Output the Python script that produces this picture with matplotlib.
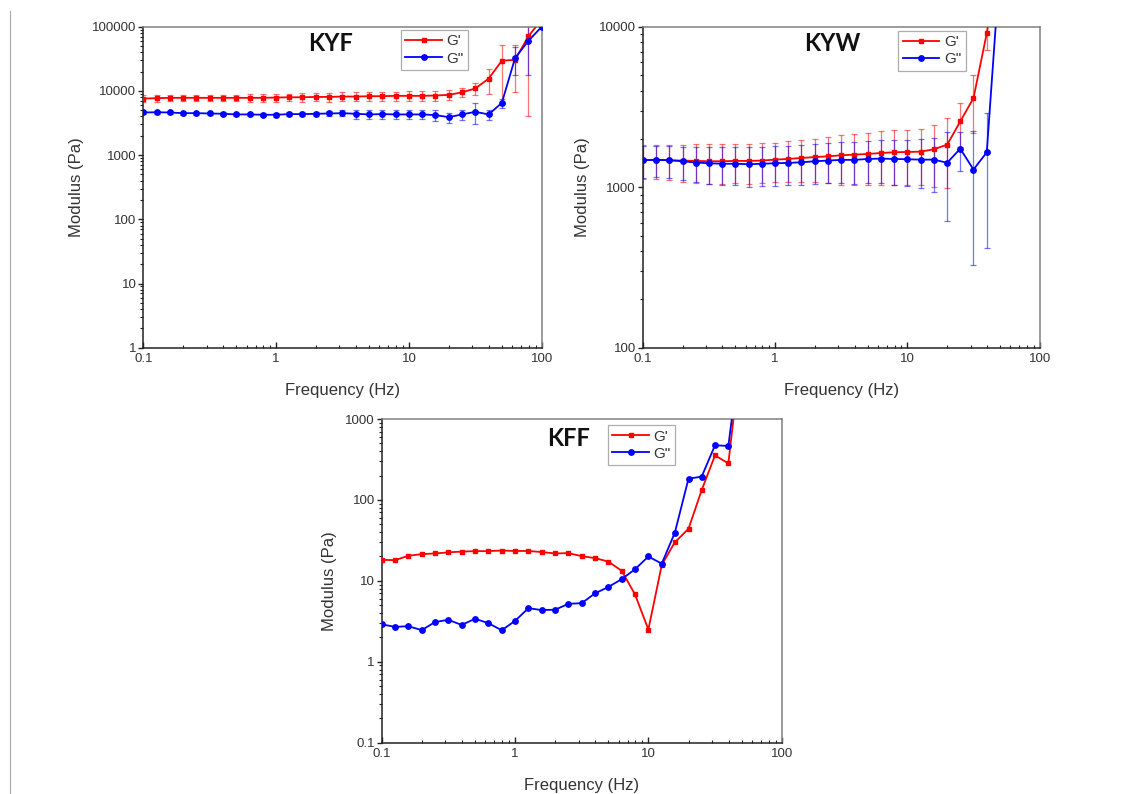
import matplotlib
matplotlib.use("Agg")
import matplotlib.pyplot as plt
from matplotlib.ticker import FixedLocator, FuncFormatter, LogLocator, NullFormatter
from matplotlib.lines import Line2D

plt.rcParams['font.family'] = ['Liberation Sans', 'DejaVu Sans']

# ---------------- data ----------------
freq = [0.1, 0.126, 0.158, 0.2, 0.251, 0.316, 0.398, 0.501, 0.631, 0.794,
        1.0, 1.26, 1.58, 2.0, 2.51, 3.16, 3.98, 5.01, 6.31, 7.94,
        10.0, 12.6, 15.8, 20.0, 25.1, 31.6, 39.8, 50.1, 63.1, 79.4, 100.0]

# KYF
kyf_gp = [7600, 7700, 7800, 7800, 7800, 7800, 7800, 7800, 7800, 7800,
          7880, 7960, 7960, 8060, 8060, 8170, 8170, 8270, 8270, 8370,
          8370, 8370, 8470, 8670, 9500, 10900, 15500, 29500, 30500, 71000, 130000]
kyf_gp_err = [900, 900, 900, 900, 900, 900, 950, 950, 1000, 1000,
              1100, 1100, 1150, 1200, 1250, 1300, 1300, 1350, 1400, 1400,
              1450, 1450, 1500, 1500, 1400, 2300, 6400, 23000, 21000, 67000, 0]
kyf_gpp = [4610, 4650, 4610, 4500, 4500, 4450, 4400, 4300, 4300, 4250,
           4250, 4350, 4350, 4400, 4450, 4500, 4400, 4300, 4350, 4300,
           4300, 4300, 4200, 3900, 4300, 4720, 4300, 6500, 32800, 60000, 100000]
kyf_gpp_err = [250, 250, 250, 250, 250, 250, 250, 250, 250, 250,
               300, 300, 300, 300, 350, 500, 700, 700, 700, 700,
               700, 700, 800, 700, 800, 1650, 800, 1000, 15000, 42000, 0]

# KYW
kyw_gp = [1472, 1480, 1472, 1465, 1458, 1451, 1451, 1458, 1458, 1465,
          1485, 1500, 1521, 1540, 1558, 1580, 1596, 1610, 1634, 1650,
          1658, 1665, 1722, 1841, 2570, 3590, 9090, 30000]
kyw_gp_err = [350, 360, 370, 380, 390, 400, 400, 400, 405, 410,
              410, 430, 450, 470, 500, 545, 560, 580, 600, 620,
              630, 640, 720, 850, 800, 1400, 1900, 0]
kyw_gpp = [1472, 1480, 1472, 1451, 1424, 1410, 1400, 1400, 1390, 1400,
           1410, 1417, 1430, 1451, 1465, 1480, 1480, 1500, 1507, 1500,
           1493, 1485, 1485, 1420, 1738, 1288, 1650, 24000]
kyw_gpp_err = [330, 330, 330, 340, 350, 360, 370, 370, 380, 380,
               390, 390, 400, 400, 410, 420, 430, 440, 450, 470,
               480, 500, 550, 800, 470, 960, 1230, 0]

# KFF
kff_gp = [18.2, 18.0, 20.4, 21.4, 21.8, 22.5, 23.0, 23.3, 23.3, 23.7,
          23.4, 23.4, 22.7, 21.8, 22.0, 20.2, 19.1, 17.3, 13.3, 6.8,
          2.5, 15.7, 30.0, 44.0, 132.0, 355.0, 283.0, 7600.0]
kff_gpp = [2.9, 2.7, 2.75, 2.46, 3.1, 3.3, 2.85, 3.4, 3.0, 2.45,
           3.2, 4.6, 4.35, 4.4, 5.2, 5.3, 7.0, 8.4, 10.5, 13.9,
           20.0, 16.3, 39.5, 183.0, 194.0, 473.0, 465.0, 8900.0]

x_ticks = [0.1, 1, 10, 100]
RED = '#ff0000'
BLUE = '#0000ff'

fig = plt.figure(figsize=(11.22, 7.94), dpi=100)

# thin gray vertical line at left edge
fig.add_artist(Line2D([9.7 / 1122, 9.7 / 1122], [0, 1 - 11 / 794],
                      transform=fig.transFigure, color='#aaaaaa', lw=0.8))


def style_axes(ax, ylim, yticks):
    ax.set_xscale('log')
    ax.set_yscale('log')
    ax.set_xlim(0.1, 100)
    ax.set_ylim(*ylim)
    ax.xaxis.set_major_locator(FixedLocator(x_ticks))
    ax.yaxis.set_major_locator(FixedLocator(yticks))
    fmt = FuncFormatter(lambda v, p: '{:g}'.format(v))
    ax.xaxis.set_major_formatter(fmt)
    ax.yaxis.set_major_formatter(fmt)
    ax.xaxis.set_minor_locator(LogLocator(base=10, subs=range(2, 10), numticks=20))
    ax.yaxis.set_minor_locator(LogLocator(base=10, subs=range(2, 10), numticks=20))
    ax.xaxis.set_minor_formatter(NullFormatter())
    ax.yaxis.set_minor_formatter(NullFormatter())
    ax.tick_params(axis='x', which='major', direction='in', length=4, width=1,
                   labelsize=9.5, pad=4, colors='#222222', labelcolor='#333333')
    ax.tick_params(axis='x', which='minor', direction='in', length=2.5, width=0.8,
                   colors='#222222')
    ax.tick_params(axis='y', which='major', direction='out', length=3.5, width=1,
                   labelsize=9.5, pad=1.5, colors='#222222', labelcolor='#333333')
    ax.tick_params(axis='y', which='minor', direction='out', length=2, width=0.8,
                   colors='#222222')
    for s in ['left', 'bottom']:
        ax.spines[s].set_color('#222222')
        ax.spines[s].set_linewidth(1.1)
    for s in ['top', 'right']:
        ax.spines[s].set_color('#808080')
        ax.spines[s].set_linewidth(1.1)
    ax.set_xlabel('Frequency (Hz)', fontsize=12, color='#333333', labelpad=13)
    ax.set_ylabel('Modulus (Pa)', fontsize=12, color='#333333', labelpad=6)


def add_series(ax, f, gp, gpp, gp_err=None, gpp_err=None):
    if gp_err is not None:
        ax.errorbar(f, gp, yerr=gp_err, fmt='none', ecolor=RED, alpha=0.55,
                    elinewidth=0.9, capsize=2.5, capthick=0.9, zorder=1)
    if gpp_err is not None:
        ax.errorbar(f, gpp, yerr=gpp_err, fmt='none', ecolor=BLUE, alpha=0.55,
                    elinewidth=0.9, capsize=2.5, capthick=0.9, zorder=1)
    l1, = ax.plot(f, gp, '-s', color=RED, ms=3.4, lw=1.3, label="G'", zorder=3)
    l2, = ax.plot(f, gpp, '-o', color=BLUE, ms=3.9, lw=1.3, label='G"', zorder=3)
    return l1, l2


def add_legend(ax, x, y):
    leg = ax.legend(loc='upper left', bbox_to_anchor=(x, y), borderaxespad=0,
                    fontsize=11, frameon=True, fancybox=False, handlelength=2.4,
                    handletextpad=0.3, borderpad=0.3, labelspacing=0.2)
    leg.get_frame().set_edgecolor('#999999')
    leg.get_frame().set_linewidth(0.9)
    for t in leg.get_texts():
        t.set_color('#333333')


def add_title(ax, text, x, y):
    ax.text(x, y, text, transform=ax.transAxes, ha='center', va='center',
            fontsize=17, fontweight='bold', family=['Lato', 'DejaVu Sans'],
            color='#111111')


W, H = 1122, 794

# KYF
ax1 = fig.add_axes([143.3 / W, 1 - 347.7 / H, 398.4 / W, 321 / H])
style_axes(ax1, (1, 100000), [1, 10, 100, 1000, 10000, 100000])
add_series(ax1, freq[:len(kyf_gp)], kyf_gp, kyf_gpp, kyf_gp_err, kyf_gpp_err)
add_legend(ax1, 0.646, 0.99)
add_title(ax1, 'KYF', 0.471, 0.949)

# KYW
ax2 = fig.add_axes([642.7 / W, 1 - 347.7 / H, 397 / W, 321 / H])
style_axes(ax2, (100, 10000), [100, 1000, 10000])
add_series(ax2, freq[:len(kyw_gp)], kyw_gp, kyw_gpp, kyw_gp_err, kyw_gpp_err)
add_legend(ax2, 0.643, 0.988)
add_title(ax2, 'KYW', 0.477, 0.949)

# KFF
ax3 = fig.add_axes([381.7 / W, 1 - 742.7 / H, 400 / W, 323.7 / H])
style_axes(ax3, (0.1, 1000), [0.1, 1, 10, 100, 1000])
add_series(ax3, freq[:len(kff_gp)], kff_gp, kff_gpp)
add_legend(ax3, 0.565, 0.981)
add_title(ax3, 'KFF', 0.466, 0.941)

fig.savefig('out.png', dpi=100)
